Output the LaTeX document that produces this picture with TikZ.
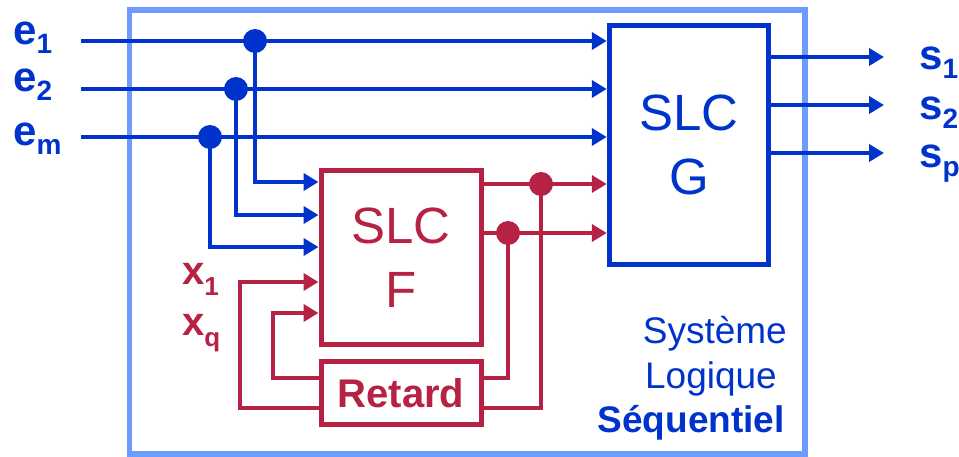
\documentclass[tikz,border=0pt]{standalone}
\usepackage{fontspec}
\setmainfont{Liberation Sans}
\usetikzlibrary{arrows.meta}
\definecolor{cblue}{RGB}{0,51,204}
\definecolor{cred}{RGB}{182,34,68}
\definecolor{clight}{RGB}{110,155,255}
\newcommand\mysub[1]{\raisebox{-9pt}{\fontsize{28}{28}\selectfont #1}}
\newcommand\mysubx[1]{\raisebox{-11pt}{\fontsize{26}{26}\selectfont #1}}
\begin{document}
\begin{tikzpicture}[x=1pt,y=-1pt,
  bline/.style={draw=cblue,line width=4.8pt},
  rline/.style={draw=cred,line width=4.8pt},
  tip/.style={-{Triangle[length=15pt,width=17pt]}},
  bdot/.style={circle,fill=cblue,inner sep=0pt,minimum size=24pt},
  rdot/.style={circle,fill=cred,inner sep=0pt,minimum size=24pt},
  slcbox/.style={line width=5pt,inner sep=0pt,align=center,font=\fontsize{51}{64}\selectfont},
  lab/.style={inner sep=0pt,anchor=base west,font=\bfseries\fontsize{42}{42}\selectfont},
  xlab/.style={inner sep=0pt,anchor=base west,text=cred,font=\bfseries\fontsize{40}{40}\selectfont},
  sys/.style={inner sep=0pt,anchor=base east,text=cblue,font=\fontsize{37}{37}\selectfont}]
\useasboundingbox (0,0) rectangle (959,457);
% outer system box
\node[draw=clight,line width=5.5pt,minimum width=675.5pt,minimum height=444pt,inner sep=0pt] (S) at (467.25,232) {};
% blocks
\node[slcbox,draw=cblue,text=cblue,minimum width=159.5pt,minimum height=239pt] (G) at (689,145) {SLC\\G};
\node[slcbox,draw=cred,text=cred,minimum width=160pt,minimum height=174pt] (F) at (401,257.5) {SLC\\F};
\node[draw=cred,line width=5pt,inner sep=0pt,text=cred,minimum width=160pt,minimum height=62.5pt,font=\bfseries\fontsize{40}{40}\selectfont] (R) at (401,393) {Retard};
% labels
\node[lab,text=cblue] (le1) at (13,45) {e\mysub{1}};
\node[lab,text=cblue] (le2) at (13,92) {e\mysub{2}};
\node[lab,text=cblue] (lem) at (13,146) {e\mysub{m}};
\node[lab,text=cblue] (ls1) at (919,70) {s\mysub{1}};
\node[lab,text=cblue] (ls2) at (919,120) {s\mysub{2}};
\node[lab,text=cblue] (lsp) at (919,168) {s\mysub{p}};
\node[xlab] (lx1) at (182,285) {x\mysubx{1}};
\node[xlab] (lxq) at (182,335) {x\mysubx{q}};
\node[sys] (t1) at (787,343) {Système};
\node[sys] (t2) at (777,388) {Logique};
\node[sys] (t3) at (785,432) {\bfseries Séquentiel};
% coordinates
\coordinate (e1s) at (81,41);
\coordinate (e2s) at (81,89);
\coordinate (ems) at (81,137);
\coordinate (o1) at (884,57);
\coordinate (o2) at (884,105);
\coordinate (o3) at (884,153);
\coordinate (k1) at (240,408);
\coordinate (k2) at (273,378);
% dots
\node[bdot] (d1) at (255,41) {};
\node[bdot] (d2) at (236,89) {};
\node[bdot] (dm) at (210,137) {};
\node[rdot] (r1) at (541,184) {};
\node[rdot] (r2) at (508,233) {};
% blue inputs
\draw[bline,tip] (e1s) -- (e1s -| G.west);
\draw[bline,tip] (e2s) -- (e2s -| G.west);
\draw[bline,tip] (ems) -- (ems -| G.west);
\draw[bline,tip] (d1.center) |- (F.west |- 0,182);
\draw[bline,tip] (d2.center) |- (F.west |- 0,215);
\draw[bline,tip] (dm.center) |- (F.west |- 0,247);
% outputs
\draw[bline,tip] (G.east |- o1) -- (o1);
\draw[bline,tip] (G.east |- o2) -- (o2);
\draw[bline,tip] (G.east |- o3) -- (o3);
% red
\draw[rline,tip] (F.east |- r1) -- (r1 -| G.west);
\draw[rline,tip] (F.east |- r2) -- (r2 -| G.west);
\draw[rline] (r1.center) |- (R.east |- k1);
\draw[rline] (r2.center) |- (R.east |- k2);
\draw[rline,tip] (R.west |- k1) -- (k1) |- (F.west |- 0,282);
\draw[rline,tip] (R.west |- k2) -- (k2) |- (F.west |- 0,313);
\end{tikzpicture}
\end{document}
